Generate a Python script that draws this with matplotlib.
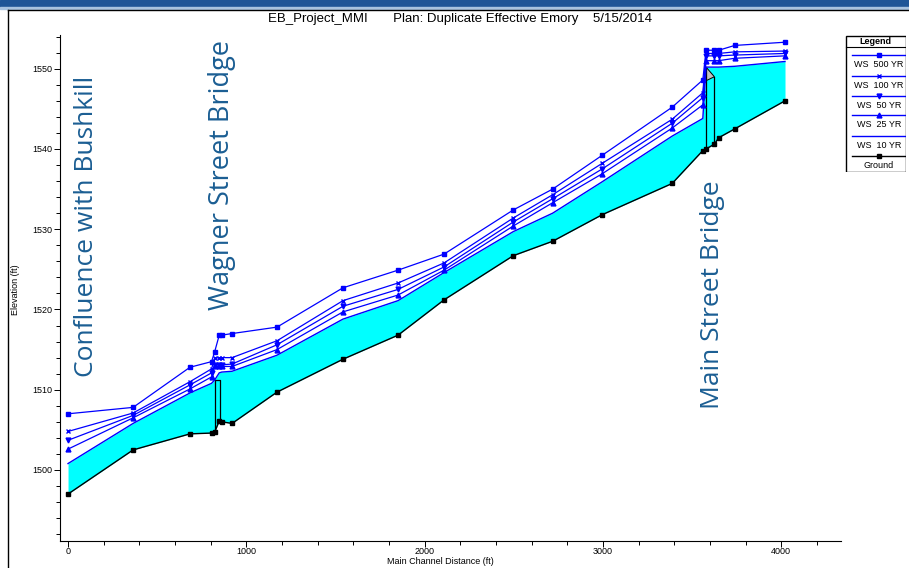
import matplotlib
matplotlib.use('Agg')
import numpy as np
import matplotlib.pyplot as plt
from matplotlib.patches import Rectangle, Polygon
from matplotlib.lines import Line2D
from matplotlib.ticker import MultipleLocator

plt.rcParams['font.family'] = ['Liberation Sans', 'DejaVu Sans']

# main channel stations (ft) and elevations (ft)
station = [0, 365, 684, 805, 822, 848, 862, 920, 1172, 1542, 1851, 2109,
           2497, 2718, 2995, 3388, 3560, 3578, 3625, 3649, 3739, 4021]
ground = [1497.0, 1502.5, 1504.5, 1504.6, 1504.7, 1506.1, 1506.0, 1505.8,
          1509.7, 1513.8, 1516.8, 1521.2, 1526.7, 1528.5, 1531.8, 1535.7,
          1539.8, 1540.0, 1540.6, 1541.4, 1542.5, 1546.0]
ws_500 = [1507.0, 1507.8, 1512.8, 1513.5, 1514.7, 1516.8, 1516.8, 1517.0,
          1517.8, 1522.7, 1524.9, 1526.9, 1532.4, 1535.0, 1539.2, 1545.2,
          1548.6, 1552.3, 1552.3, 1552.3, 1552.9, 1553.3]
ws_100 = [1504.8, 1507.1, 1511.0, 1512.6, 1513.9, 1514.0, 1514.0, 1514.0,
          1516.1, 1521.1, 1523.3, 1525.8, 1531.4, 1534.3, 1538.2, 1543.7,
          1547.0, 1551.9, 1551.9, 1551.9, 1552.1, 1552.2]
ws_50 = [1503.7, 1506.8, 1510.6, 1512.1, 1513.1, 1513.1, 1513.1, 1513.2,
         1515.6, 1520.4, 1522.5, 1525.3, 1530.9, 1533.8, 1537.5, 1543.2,
         1546.4, 1551.6, 1551.6, 1551.6, 1551.7, 1551.9]
ws_25 = [1502.6, 1506.5, 1510.1, 1511.6, 1512.9, 1512.9, 1512.9, 1512.9,
         1515.0, 1519.7, 1521.8, 1524.9, 1530.4, 1533.3, 1536.9, 1542.6,
         1545.5, 1551.0, 1551.0, 1551.0, 1551.3, 1551.6]
ws_10 = [1500.8, 1505.8, 1509.6, 1510.8, 1511.2, 1512.1, 1512.2, 1512.3,
         1514.3, 1518.8, 1521.1, 1524.6, 1529.7, 1532.0, 1535.9, 1541.6,
         1543.8, 1550.2, 1550.2, 1550.2, 1550.3, 1550.9]

# bridges: face stations and low chord / deck elevations
wagner_faces = [822, 852]
wagner_deck = 1511.2
main_faces = [3578, 3625]
main_deck = [1550.2, 1549.0, 1548.5]

title = 'EB_Project_MMI       Plan: Duplicate Effective Emory    5/15/2014'
blue = '#0000ff'
note_col = '#1b5e93'
note_font = ['Open Sans', 'DejaVu Sans']

fig = plt.figure(figsize=(9.09, 5.68), dpi=100)

# window decoration: blue band and panel border
fig.patches.append(Rectangle((0, 1 - 7 / 568), 1, 7 / 568, transform=fig.transFigure,
                             color='#1f5597', zorder=0))
fig.patches.append(Rectangle((0, 1 - 9 / 568), 1, 2 / 568, transform=fig.transFigure,
                             color='#a9c3e0', zorder=0))
fig.lines.append(Line2D([8 / 909, 8 / 909], [0, 1 - 10 / 568], transform=fig.transFigure,
                        color='black', lw=1))
fig.lines.append(Line2D([8 / 909, 1], [1 - 10 / 568, 1 - 10 / 568], transform=fig.transFigure,
                        color='black', lw=1))

ax = fig.add_axes([60 / 909, 1 - 541 / 568, 781 / 909, 506 / 568])

ax.fill_between(station, ground, ws_10, color='#00ffff', lw=0, zorder=1)

# Wagner Street bridge
g0, g1 = np.interp(wagner_faces, station, ground)
ax.plot([wagner_faces[0], wagner_faces[0], wagner_faces[1], wagner_faces[1]],
        [g0, wagner_deck, wagner_deck, g1], color='black', lw=0.9, zorder=3)
# Main Street bridge
g0, g1 = np.interp(main_faces, station, ground)
ax.add_patch(Polygon([[main_faces[0], main_deck[0]], [main_faces[1], main_deck[1]],
                      [main_faces[0], main_deck[2]]], closed=True,
                     facecolor='#c0c0c0', edgecolor='black', lw=0.7, zorder=3))
ax.plot([main_faces[0], main_faces[0]], [g0, main_deck[0]], color='black', lw=0.9, zorder=3)
ax.plot([main_faces[1], main_faces[1]], [g1, main_deck[1]], color='black', lw=0.9, zorder=3)

ax.plot(station, ground, color='black', lw=1, marker='s', ms=3.5, zorder=4)
ax.plot(station, ws_10, color=blue, lw=1, zorder=4)
ax.plot(station, ws_25, color=blue, lw=0.9, marker='^', ms=3.5, zorder=4)
ax.plot(station, ws_50, color=blue, lw=0.9, marker='v', ms=3.5, zorder=4)
ax.plot(station, ws_100, color=blue, lw=0.9, marker='x', ms=3.5, mew=1, zorder=4)
ax.plot(station, ws_500, color=blue, lw=0.9, marker='s', ms=3.5, zorder=4)

ax.text(101, 1530.4, 'Confluence with Bushkill', rotation=90, ha='center', va='center',
        fontsize=19, color=note_col, family=note_font)
ax.text(864, 1536.7, 'Wagner Street Bridge', rotation=90, ha='center', va='center',
        fontsize=19.5, color=note_col, family=note_font)
ax.text(3617, 1521.8, 'Main Street Bridge', rotation=90, ha='center', va='center',
        fontsize=19, color=note_col, family=note_font)

ax.set_xlim(-45, 4335)
ax.set_ylim(1491.15, 1554.2)
ax.xaxis.set_major_locator(MultipleLocator(1000))
ax.xaxis.set_minor_locator(MultipleLocator(200))
ax.yaxis.set_major_locator(MultipleLocator(10))
ax.yaxis.set_minor_locator(MultipleLocator(2))
ax.tick_params(which='both', direction='out', labelsize=6.5, width=0.7, pad=1.5)
ax.tick_params(which='major', length=4)
ax.tick_params(which='minor', length=3)
ax.tick_params(axis='x', which='both', pad=0.5)
for s in ['top', 'right']:
    ax.spines[s].set_visible(False)
for s in ['left', 'bottom']:
    ax.spines[s].set_linewidth(0.8)
fig.text(440 / 909, 1 - 561 / 568, 'Main Channel Distance (ft)', ha='center', va='center',
         fontsize=6.5)
fig.text(16 / 909, 1 - 290 / 568, 'Elevation (ft)', ha='center', va='center',
         rotation=90, fontsize=6.5)
fig.text(460 / 909, 1 - 19 / 568, title, ha='center', va='center', fontsize=9.5)

# legend box drawn by hand (HEC-RAS style)
lg = fig.add_axes([845 / 909, 1 - 172 / 568, 61 / 909, 137 / 568])
lg.set_xlim(0, 61)
lg.set_ylim(137, 0)
lg.axis('off')
lg.add_patch(Rectangle((0.5, 0.5), 60, 136, fill=False, edgecolor='black', lw=1))
lg.plot([0.5, 60.5], [11.7, 11.7], color='black', lw=0.8)
lg.text(30.5, 6, 'Legend', ha='center', va='center', fontsize=6.5, fontweight='bold')
entries = [('WS  500 YR', blue, 's'), ('WS  100 YR', blue, 'x'), ('WS  50 YR', blue, 'v'),
           ('WS  25 YR', blue, '^'), ('WS  10 YR', blue, None), ('Ground', 'black', 's')]
line_y = [20, 40.7, 60.7, 80, 100.7, 120.7]
for (lab, col, mk), yy in zip(entries, line_y):
    lg.plot([6.7, 60.5], [yy, yy], color=col, lw=1)
    if mk:
        lg.plot([34], [yy], color=col, marker=mk, ms=3.5, mew=1)
    lg.text(34, yy + 9.5, lab, ha='center', va='center', fontsize=6.5)

fig.savefig('out.png', dpi=100)
